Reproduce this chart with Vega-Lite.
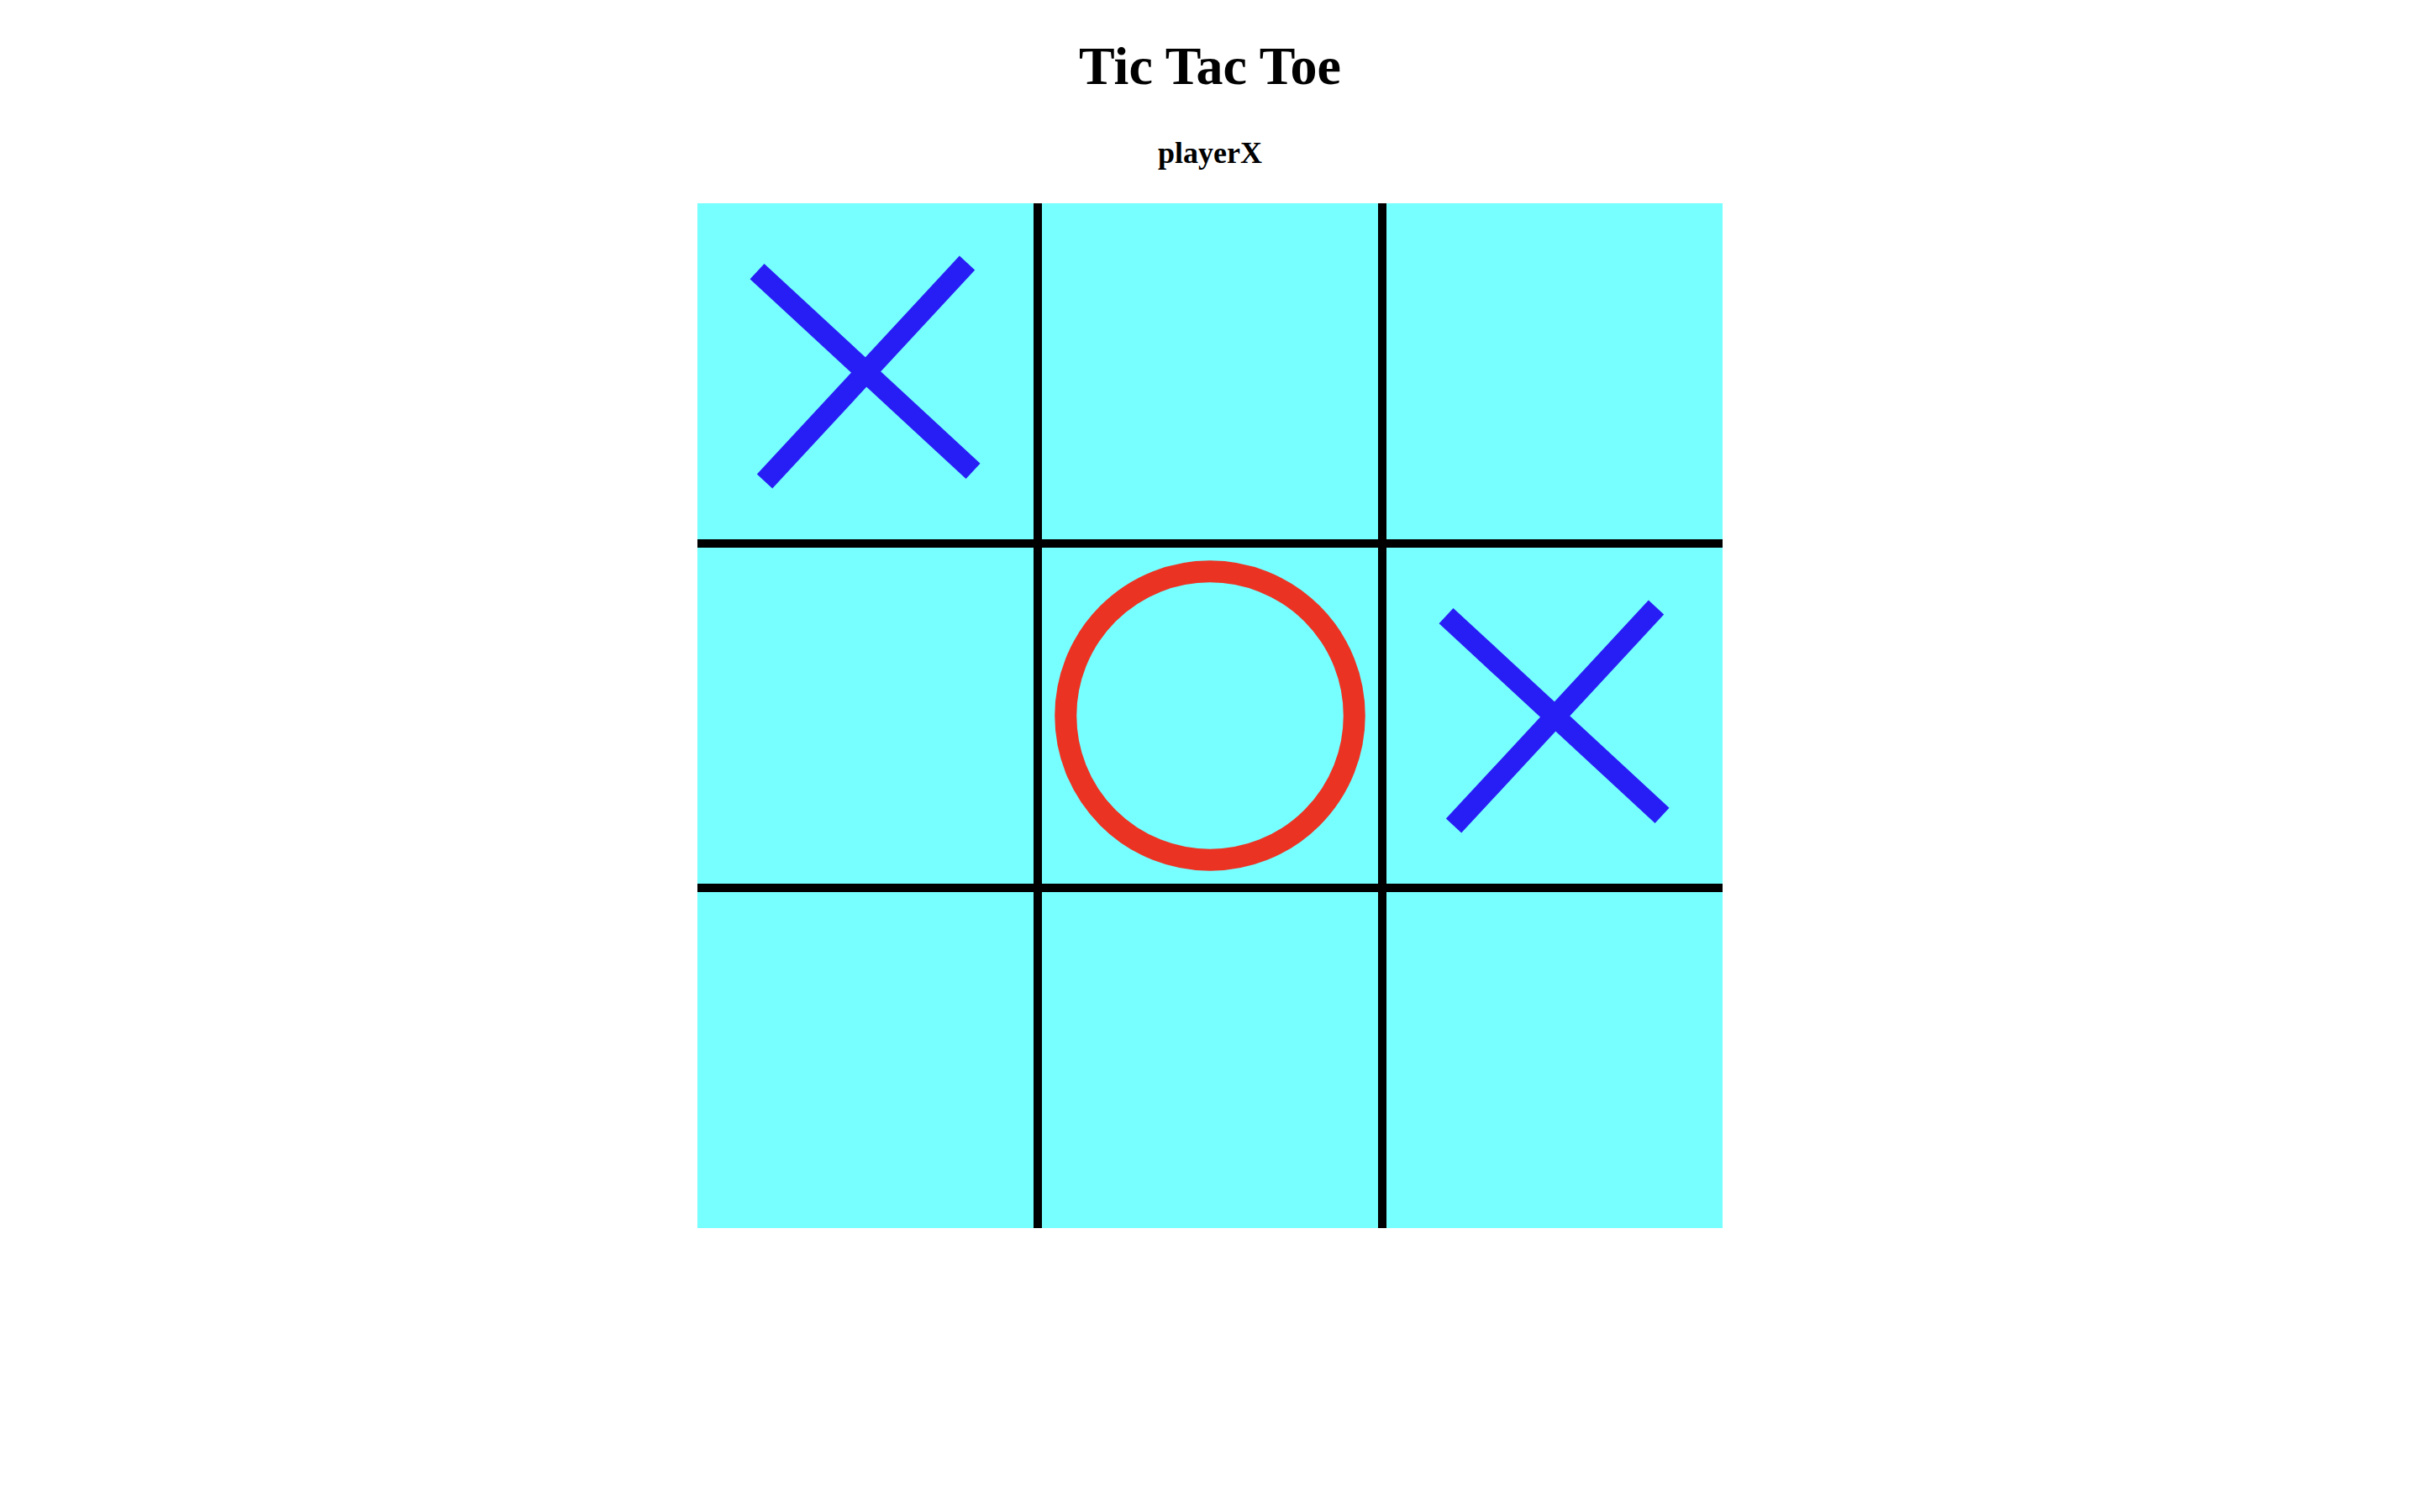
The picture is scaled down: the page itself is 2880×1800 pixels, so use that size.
{
  "$schema": "https://vega.github.io/schema/vega-lite/v6.json",
  "autosize": {"type": "none"},
  "padding": {"left": 830, "top": 242, "right": 830, "bottom": 338},
  "width": 1220,
  "height": 1220,
  "background": "white",
  "title": {
    "text": "Tic Tac Toe",
    "subtitle": "playerX",
    "anchor": "middle",
    "font": "Liberation Serif",
    "fontSize": 64,
    "fontWeight": "bold",
    "color": "black",
    "subtitleFont": "Liberation Serif",
    "subtitleFontSize": 36,
    "subtitleFontWeight": "bold",
    "subtitleColor": "black",
    "subtitlePadding": 53,
    "offset": 36
  },
  "datasets": {
    "cells": [
      {"row": 0, "col": 0, "player": "X"},
      {"row": 0, "col": 1, "player": ""},
      {"row": 0, "col": 2, "player": ""},
      {"row": 1, "col": 0, "player": ""},
      {"row": 1, "col": 1, "player": "O"},
      {"row": 1, "col": 2, "player": "X"},
      {"row": 2, "col": 0, "player": ""},
      {"row": 2, "col": 1, "player": ""},
      {"row": 2, "col": 2, "player": ""}
    ],
    "gridlines": [
      {"index": 1},
      {"index": 2}
    ]
  },
  "layer": [
    {
      "data": {"name": "gridlines"},
      "mark": {"type": "rule", "color": "black", "strokeWidth": 10},
      "encoding": {
        "x": {"field": "index", "type": "ordinal", "bandPosition": -0.0125, "scale": {"domain": [0, 1, 2], "paddingInner": 0.02439, "paddingOuter": 0}, "axis": null}
      }
    },
    {
      "data": {"name": "gridlines"},
      "mark": {"type": "rule", "color": "black", "strokeWidth": 10},
      "encoding": {
        "y": {"field": "index", "type": "ordinal", "bandPosition": -0.0125, "scale": {"domain": [0, 1, 2], "paddingInner": 0.02439, "paddingOuter": 0}, "axis": null}
      }
    },
    {
      "data": {"name": "cells"},
      "transform": [{"filter": "datum.player === 'X'"}],
      "mark": {
        "type": "point",
        "shape": "M-0.992,-0.915L0.985,0.915M-0.923,1.008L0.931,-0.992",
        "filled": false,
        "stroke": "#271EF5",
        "strokeWidth": 25,
        "strokeCap": "butt",
        "size": 67600,
        "opacity": 1
      },
      "encoding": {
        "x": {"field": "col", "type": "ordinal", "axis": null},
        "y": {"field": "row", "type": "ordinal", "axis": null}
      }
    },
    {
      "data": {"name": "cells"},
      "transform": [{"filter": "datum.player === 'O'"}],
      "mark": {
        "type": "point",
        "shape": "circle",
        "filled": false,
        "stroke": "#EB3324",
        "strokeWidth": 26,
        "size": 118000,
        "opacity": 1
      },
      "encoding": {
        "x": {"field": "col", "type": "ordinal", "axis": null},
        "y": {"field": "row", "type": "ordinal", "axis": null}
      }
    }
  ],
  "config": {
    "view": {"fill": "#77FEFE", "stroke": null}
  }
}
